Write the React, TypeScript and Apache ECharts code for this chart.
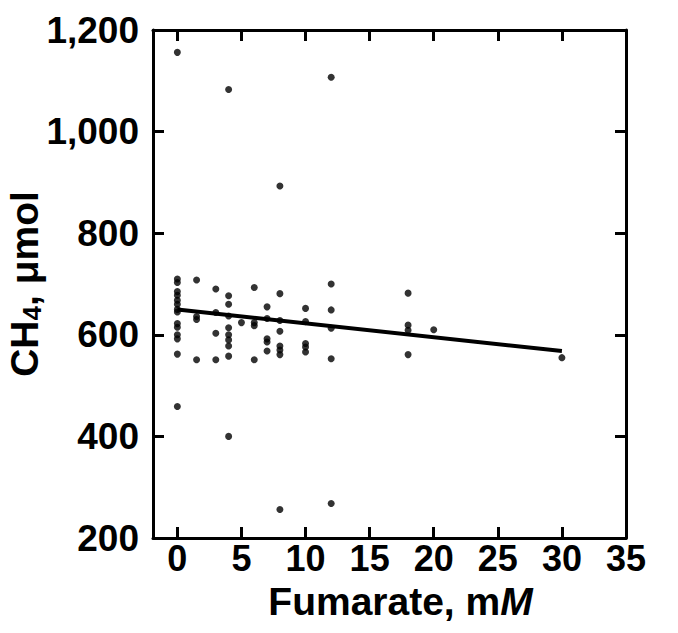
import React, { useEffect, useRef } from "react";
import * as echarts from "echarts";

// Fumarate concentration levels (mM) and CH4 values (µmol) observed at each level
const fumarateLevels = [0, 1.5, 3, 4, 5, 6, 7, 8, 10, 12, 18, 20, 30];
const ch4ByLevel: number[][] = [
  [1156, 710, 703, 685, 678, 668, 660, 650, 645, 622, 615, 600, 592, 562, 459],
  [708, 636, 630, 551],
  [690, 644, 603, 551],
  [1083, 677, 660, 637, 614, 600, 590, 578, 558, 400],
  [624],
  [693, 624, 618, 551],
  [655, 632, 592, 586, 568],
  [893, 681, 628, 607, 578, 570, 561, 256],
  [652, 626, 583, 576, 566],
  [1107, 700, 649, 613, 553, 268],
  [682, 619, 609, 561],
  [610],
  [555],
];

// Regression line end points
const trendX = [0, 30];
const trendY = [650, 568];

const xTickValues = [0, 5, 10, 15, 20, 25, 30];
const xLabelValues = [0, 5, 10, 15, 20, 25, 30, 35];

const FONT = "'Liberation Sans', Arial, Helvetica, sans-serif";

export default function App() {
  const ref = useRef<HTMLDivElement>(null);
  useEffect(() => {
    if (!ref.current) return;
    const chart = echarts.init(ref.current, undefined, { renderer: "svg" });
    const points: number[][] = [];
    fumarateLevels.forEach((x, i) => {
      ch4ByLevel[i].forEach((v) => points.push([x, v]));
    });
    const lineData = trendX.map((x, i) => [x, trendY[i]]);
    const axisLine = { show: true, onZero: false, lineStyle: { color: "#000", width: 3 } };
    const tickStyle = { color: "#000", width: 3 };
    const labelStyle = {
      color: "#000",
      fontFamily: FONT,
      fontWeight: "bold" as const,
      fontSize: 37,
    };
    chart.setOption({
      animation: false,
      backgroundColor: "#fff",
      grid: {
        left: 153,
        right: 52,
        top: 30,
        bottom: 95,
        outerBoundsMode: "none",
      },
      xAxis: [
        {
          type: "value",
          min: -1.9,
          max: 35,
          position: "bottom",
          axisLine,
          splitLine: { show: false },
          axisTick: {
            show: true,
            inside: true,
            length: 11,
            lineStyle: tickStyle,
            customValues: xTickValues,
          },
          axisLabel: {
            ...labelStyle,
            fontSize: 36,
            lineHeight: 32,
            margin: 4,
            customValues: xLabelValues,
          },
          name: "{a|Fumarate, m}{i|M}",
          nameLocation: "middle",
          nameGap: 45,
          nameMoveOverlap: false,
          nameTextStyle: {
            padding: [0, 0, 0, 22],
            lineHeight: 36,
            rich: {
              a: { ...labelStyle, fontSize: 39, lineHeight: 36 },
              i: { ...labelStyle, fontSize: 39, lineHeight: 36, fontStyle: "italic" },
            },
          },
        },
        {
          type: "value",
          min: -1.9,
          max: 35,
          position: "top",
          axisLine,
          splitLine: { show: false },
          axisTick: {
            show: true,
            inside: true,
            length: 11,
            lineStyle: tickStyle,
            customValues: xTickValues,
          },
          axisLabel: { show: false },
        },
      ],
      yAxis: [
        {
          type: "value",
          min: 200,
          max: 1200,
          interval: 200,
          position: "left",
          axisLine,
          splitLine: { show: false },
          axisTick: { show: true, inside: true, length: 11, lineStyle: tickStyle },
          axisLabel: {
            ...labelStyle,
            margin: 14,
            formatter: (v: number) => v.toLocaleString("en-US"),
          },
          name: "{a|CH}{s|4}{a|, μmol}",
          nameLocation: "middle",
          nameRotate: 90,
          nameGap: 108,
          nameMoveOverlap: false,
          nameTextStyle: {
            rich: {
              a: { ...labelStyle, fontSize: 39 },
              s: { ...labelStyle, fontSize: 26, padding: [16, 0, 0, 0] },
            },
          },
        },
        {
          type: "value",
          min: 200,
          max: 1200,
          interval: 200,
          position: "right",
          axisLine,
          splitLine: { show: false },
          axisTick: { show: true, inside: true, length: 11, lineStyle: tickStyle },
          axisLabel: { show: false },
        },
      ],
      series: [
        {
          type: "scatter",
          data: points,
          symbol: "circle",
          symbolSize: 7,
          itemStyle: { color: "#000" },
          xAxisIndex: 0,
          yAxisIndex: 0,
        },
        {
          type: "line",
          data: lineData,
          symbol: "none",
          lineStyle: { color: "#000", width: 4 },
          xAxisIndex: 0,
          yAxisIndex: 0,
        },
      ],
    });
    return () => chart.dispose();
  }, []);
  return (
    <div
      ref={ref}
      style={{ position: "fixed", left: 0, top: 0, width: 678, height: 633, background: "#fff" }}
    />
  );
}
